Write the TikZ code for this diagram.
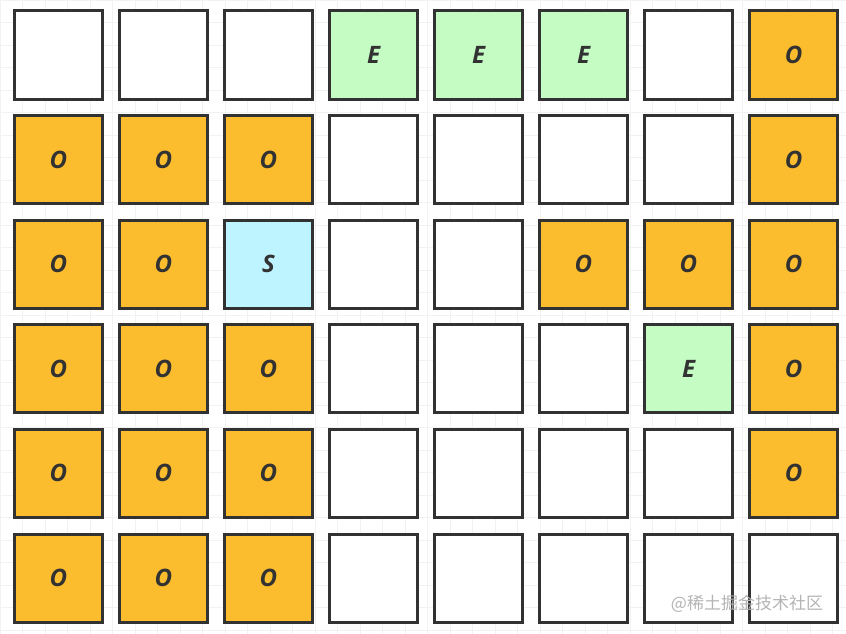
\documentclass[tikz,border=0pt]{standalone}
\usepackage{fontspec}
\setsansfont{Open Sans}
\newfontfamily\cjk{Noto Sans CJK SC}
\usetikzlibrary{calc}

\definecolor{cellline}{HTML}{323232}
\definecolor{orangefill}{HTML}{FBBD2D}
\definecolor{greenfill}{HTML}{C4FCC4}
\definecolor{cyanfill}{HTML}{BDF4FF}
\definecolor{gridline}{HTML}{F2F2F2}
\definecolor{markgray}{HTML}{B4B4B4}

\tikzset{
  cell/.style={draw=cellline, line width=3pt, minimum size=88pt, inner sep=0pt,
    text=cellline, font=\sffamily\bfseries\itshape\fontsize{24}{24}\selectfont},
  W/.style={cell, fill=white},
  O/.style={cell, fill=orangefill},
  E/.style={cell, fill=greenfill},
  S/.style={cell, fill=cyanfill}
}
\def\emptykind{W}

\begin{document}
\begin{tikzpicture}[x=1pt,y=-1pt]
\useasboundingbox (0,0) rectangle (846,634);
% faint paper grid
\foreach \gx in {0,22.5,...,846} \draw[gridline, line width=0.8pt] (\gx,0) -- (\gx,634);
\foreach \gy in {0,22.5,...,634} \draw[gridline, line width=0.8pt] (0,\gy) -- (846,\gy);
% the board, one row at a time
\foreach \row [count=\r from 0] in {
    {W,W,W,E,E,E,W,O},
    {O,O,O,W,W,W,W,O},
    {O,O,S,W,W,O,O,O},
    {O,O,O,W,W,W,E,O},
    {O,O,O,W,W,W,W,O},
    {O,O,O,W,W,W,W,W}} {
  \foreach \kind [count=\c from 0] in \row {
    \ifx\kind\emptykind
      \node[W] (c-\r-\c) at (58.5+105*\c, 55+104.6*\r) {};
    \else
      \node[\kind] (c-\r-\c) at (58.5+105*\c, 55+104.6*\r) {\kind};
    \fi
  }
}
% watermark
\node[text=markgray, font=\cjk\fontsize{17}{17}\selectfont, inner sep=0pt] (mark) at (747,604) {@稀土掘金技术社区};
\end{tikzpicture}
\end{document}
